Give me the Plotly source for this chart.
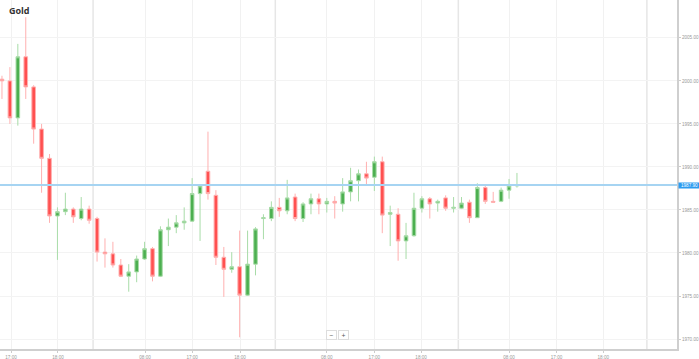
import plotly.graph_objects as go

# ---- data ----
opens = [2000.2, 2000.0, 1995.7, 2002.8, 1999.3, 1994.4, 1991.0, 1984.3, 1984.8, 1985.1,
         1984.0, 1985.1, 1984.0, 1980.1, 1979.9, 1978.6, 1977.3, 1977.8, 1979.3, 1980.5,
         1977.3, 1982.7, 1983.0, 1983.5, 1983.7, 1986.9, 1989.5, 1986.7, 1979.5, 1978.1,
         1978.4, 1975.1, 1978.7, 1984.0, 1984.0, 1985.3, 1984.9, 1986.5, 1984.0, 1985.7,
         1986.3, 1985.7, 1986.0, 1985.7, 1987.1, 1988.4, 1989.2, 1988.8, 1990.6, 1984.5,
         1984.5, 1981.4, 1982.0, 1985.2, 1986.3, 1985.8, 1986.4, 1985.2, 1985.2, 1985.9,
         1984.1, 1987.6, 1986.0, 1986.0, 1987.3, 1987.8]
highs = [2000.6, 2001.6, 2004.3, 2007.4, 1999.5, 1995.0, 1991.5, 1985.3, 1987.0, 1985.3,
         1986.5, 1985.5, 1984.2, 1981.7, 1981.3, 1979.3, 1978.7, 1979.7, 1981.3, 1980.7,
         1983.1, 1984.0, 1984.4, 1985.3, 1988.7, 1987.9, 1994.1, 1987.3, 1980.7, 1980.1,
         1982.6, 1982.6, 1983.0, 1984.5, 1986.0, 1986.4, 1988.5, 1986.9, 1985.9, 1986.9,
         1986.9, 1986.4, 1986.6, 1988.7, 1989.9, 1989.7, 1990.6, 1991.2, 1991.2, 1985.5,
         1985.2, 1983.5, 1987.0, 1986.6, 1986.5, 1986.2, 1986.7, 1986.5, 1986.5, 1986.2,
         1988.1, 1987.8, 1987.1, 1987.6, 1988.6, 1989.3]
lows = [1997.9, 1995.0, 1994.8, 1997.9, 1992.7, 1987.0, 1983.5, 1979.2, 1984.4, 1983.5,
        1983.8, 1983.4, 1979.0, 1978.3, 1978.3, 1977.2, 1975.5, 1976.6, 1979.2, 1976.7,
        1977.2, 1980.8, 1982.3, 1982.7, 1983.6, 1981.4, 1986.2, 1978.6, 1974.9, 1977.7,
        1970.2, 1975.0, 1977.4, 1981.6, 1983.7, 1984.2, 1984.5, 1983.7, 1983.6, 1984.5,
        1984.5, 1984.7, 1984.0, 1984.8, 1986.0, 1986.0, 1987.8, 1987.2, 1982.3, 1980.8,
        1979.1, 1979.3, 1981.9, 1984.7, 1984.0, 1984.8, 1984.9, 1984.7, 1985.1, 1983.5,
        1984.1, 1985.7, 1985.8, 1985.9, 1986.3, 1987.6]
closes = [2000.0, 1995.7, 2002.8, 1999.3, 1994.4, 1991.0, 1984.3, 1984.8, 1985.1, 1984.2,
          1985.1, 1983.8, 1980.1, 1979.9, 1978.6, 1977.3, 1977.8, 1979.3, 1980.5, 1977.3,
          1982.7, 1983.0, 1983.5, 1983.7, 1986.9, 1987.8, 1986.9, 1979.5, 1978.1, 1978.4,
          1975.1, 1978.7, 1982.8, 1984.1, 1985.3, 1984.9, 1986.4, 1984.0, 1985.7, 1986.3,
          1985.7, 1986.0, 1985.8, 1987.1, 1988.4, 1989.2, 1988.7, 1990.6, 1984.4, 1984.7,
          1981.4, 1982.0, 1985.2, 1986.3, 1985.7, 1986.0, 1985.2, 1985.3, 1985.8, 1984.1,
          1987.6, 1986.0, 1985.9, 1987.3, 1987.8, 1987.9]
bar_index = list(range(len(opens)))

x_tick_pos = [1.14, 7.07, 18.06, 24.0, 30.05, 41.0, 47.0, 52.9, 64.0, 70.0, 75.9]
x_tick_text = ["17:00", "18:00", "08:00", "17:00", "18:00", "08:00",
               "17:00", "18:00", "08:00", "17:00", "18:00"]
day_separators = [11.5, 34.5, 57.6, 81.4]

y_tick_vals = [1970, 1975, 1980, 1985, 1990, 1995, 2000, 2005]
current_price = 1987.90
title_text = "Gold"

RED = "#ff5050"
GREEN = "#4caf50"

fig = go.Figure()
fig.add_trace(go.Candlestick(
    x=bar_index, open=opens, high=highs, low=lows, close=closes,
    increasing=dict(line=dict(color="#a8dca8", width=1), fillcolor=GREEN),
    decreasing=dict(line=dict(color="#ffb0b0", width=1), fillcolor=RED),
    whiskerwidth=0, showlegend=False, hoverinfo="skip",
))

shapes = []
for s in day_separators:
    shapes.append(dict(type="line", xref="x", yref="paper", x0=s, x1=s, y0=0, y1=1,
                       line=dict(color="#e6e6e6", width=1.5), layer="below"))
shapes.append(dict(type="line", xref="paper", yref="y", x0=0, x1=1,
                   y0=current_price, y1=current_price,
                   line=dict(color="#a6d4f2", width=2), layer="above"))
fig.update_layout(shapes=shapes)

annotations = [
    dict(text="<b>" + title_text + "</b>", xref="paper", yref="paper", x=0.011, y=0.993,
         xanchor="left", yanchor="top", showarrow=False,
         font=dict(family="Open Sans, Arial", size=9, color="#333333")),
    dict(text="%.2f" % current_price, xref="paper", yref="y", x=1.002, y=current_price,
         xanchor="left", yanchor="middle", showarrow=False, bgcolor="#2d9bf0",
         borderpad=0, width=21, font=dict(family="Arial", size=4.6, color="#ffffff")),
    dict(text="−", xref="paper", yref="paper", x=0.490, y=0.026, showarrow=False,
         bgcolor="#ffffff", bordercolor="#dddddd", borderwidth=1, borderpad=0,
         font=dict(size=7, color="#555555"), width=9, height=8),
    dict(text="+", xref="paper", yref="paper", x=0.507, y=0.026, showarrow=False,
         bgcolor="#ffffff", bordercolor="#dddddd", borderwidth=1, borderpad=0,
         font=dict(size=7, color="#555555"), width=9, height=8),
]

fig.update_layout(
    width=699, height=359,
    margin=dict(l=0, r=22, t=0, b=10),
    paper_bgcolor="#ffffff", plot_bgcolor="#ffffff",
    boxgap=0.35,
    annotations=annotations,
    xaxis=dict(
        range=[-0.25, 85.2], rangeslider=dict(visible=False),
        tickmode="array", tickvals=x_tick_pos, ticktext=x_tick_text,
        tickfont=dict(family="Arial", size=4.6, color="#999999"),
        showgrid=True, gridcolor="#f1f1f1", gridwidth=1,
        ticks="outside", ticklen=2, tickcolor="#cccccc",
        showline=True, linecolor="#cfcfcf", linewidth=2,
        zeroline=False, automargin=False, fixedrange=True,
    ),
    yaxis=dict(
        side="right", range=[1968.84, 2009.4],
        tickmode="array", tickvals=y_tick_vals, tickformat=".2f",
        tickfont=dict(family="Arial", size=4.6, color="#999999"),
        showgrid=True, gridcolor="#f3f3f3", gridwidth=1,
        ticks="outside", ticklen=2, tickcolor="#cccccc",
        showline=True, linecolor="#cfcfcf", linewidth=2,
        zeroline=False, automargin=False, fixedrange=True,
    ),
)

fig.write_html("out.html", config={"displayModeBar": False},
               post_script="document.body.style.margin='0px';document.body.style.overflow='hidden';")
